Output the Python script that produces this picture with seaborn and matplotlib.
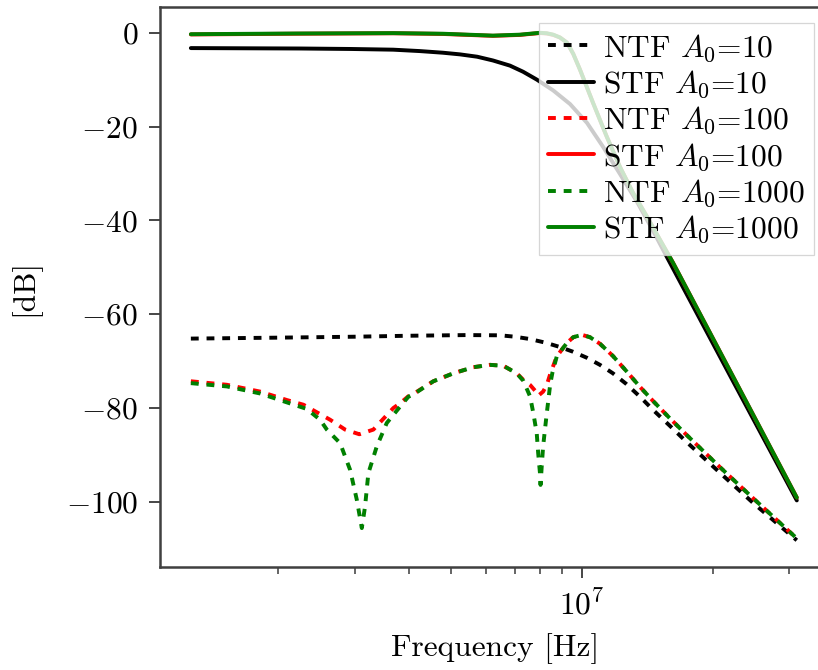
import matplotlib
matplotlib.use("Agg")
import matplotlib.pyplot as plt
import seaborn as sns
import pandas as pd

# Frequency response of the modulator for three op-amp DC gains A0
freq_ntf_10 = [1.26e6, 2.0e6, 3.0e6, 3.95e6, 4.89e6, 5.43e6, 6.479e6, 7.015e6,
               7.595e6, 8.265e6, 8.901e6, 9.535e6, 1.027e7, 1.1e7, 1.178e7,
               1.262e7, 1.36e7, 1.457e7, 1.593e7, 1.743e7, 2.076e7, 2.473e7, 3.12e7]
ntf_10 = [-65.2, -65.0, -64.8, -64.6, -64.5, -64.45, -64.5, -64.8,
          -65.3, -66.1, -67.0, -68.0, -69.3, -70.8, -72.6,
          -74.8, -77.6, -80.4, -83.8, -87.3, -93.8, -100.2, -108.2]

freq_stf_10 = [1.26e6, 2.25e6, 2.94e6, 3.68e6, 4.24e6, 4.79e6, 5.24e6, 5.74e6,
               6.24e6, 6.83e6, 7.32e6, 7.88e6, 8.59e6, 9.39e6, 1.027e7, 1.118e7,
               1.223e7, 1.338e7, 1.457e7, 1.568e7, 2.2e7, 3.12e7]
stf_10 = [-3.26, -3.35, -3.45, -3.6, -3.9, -4.25, -4.6, -5.1,
          -5.9, -7.0, -8.3, -10.0, -12.3, -15.2, -19.2, -24.3,
          -30.1, -36.0, -42.2, -47.8, -73.4, -99.7]

freq_ntf_100 = [1.26e6, 1.525e6, 1.818e6, 2.095e6, 2.287e6, 2.634e6, 2.852e6,
                3.076e6, 3.313e6, 3.683e6, 3.816e6, 3.987e6, 4.094e6, 4.551e6,
                5.06e6, 5.626e6, 6.145e6, 6.594e6, 7.078e6, 7.33e6, 7.6e6, 7.8e6,
                7.93e6, 8.14e6, 8.3e6, 8.45e6, 8.75e6, 9.22e6, 9.55e6, 1.0e7,
                1.043e7, 1.1e7, 1.178e7, 1.267e7, 1.36e7, 1.457e7, 1.593e7,
                1.743e7, 2.076e7, 2.473e7, 3.12e7]
ntf_100 = [-74.3, -75.05, -76.5, -78.3, -79.3, -82.5, -84.6,
           -85.6, -84.6, -80.0, -79.0, -77.5, -77.0, -74.3,
           -72.6, -71.3, -70.8, -71.0, -72.6, -74.0, -75.1, -76.3,
           -77.4, -76.5, -75.1, -72.8, -69.0, -66.2, -64.9, -64.4,
           -64.9, -66.3, -68.9, -72.2, -75.5, -78.5, -82.2,
           -85.8, -92.6, -99.2, -107.8]

freq_stf_100 = [1.26e6, 2.2e6, 3.68e6, 4.79e6, 6.24e6, 7.2e6, 8.0e6, 8.3e6,
                8.59e6, 8.9e6, 9.24e6, 9.55e6, 9.9e6, 1.06e7, 1.141e7, 1.223e7,
                1.31e7, 1.411e7, 1.511e7, 1.619e7, 2.2e7, 3.12e7]
stf_100 = [-0.35, -0.2, -0.1, -0.25, -0.65, -0.45, -0.05, -0.15,
           -0.45, -1.0, -2.1, -4.5, -7.9, -14.9, -22.2, -28.6,
           -34.1, -39.2, -44.1, -49.0, -72.4, -99.1]

freq_ntf_1000 = [1.26e6, 1.525e6, 1.818e6, 2.095e6, 2.328e6, 2.498e6, 2.589e6,
                 2.778e6, 2.929e6, 3.035e6, 3.116e6, 3.17e6, 3.226e6, 3.373e6,
                 3.556e6, 3.816e6, 3.987e6, 4.094e6, 4.551e6, 5.06e6, 5.626e6,
                 6.145e6, 6.594e6, 7.078e6, 7.33e6, 7.595e6, 7.73e6, 7.87e6,
                 7.93e6, 8.006e6, 8.03e6, 8.08e6, 8.14e6, 8.22e6, 8.30e6, 8.37e6,
                 8.45e6, 8.55e6, 8.75e6, 9.22e6, 9.55e6, 1.0e7, 1.043e7, 1.1e7,
                 1.178e7, 1.267e7, 1.36e7, 1.457e7, 1.593e7, 1.743e7, 2.076e7,
                 2.473e7, 3.12e7]
ntf_1000 = [-74.7, -75.4, -76.9, -78.8, -80.2, -82.5, -84.6,
            -87.5, -93.2, -99.6, -105.6, -101.0, -93.9, -88.2,
            -83.2, -79.7, -77.6, -77.1, -74.3, -72.6, -71.3,
            -70.8, -71.0, -72.6, -74.2, -77.5, -81.1, -85.4,
            -89.6, -93.9, -96.4, -92.5, -88.2, -84.6, -81.1, -78.3,
            -75.0, -72.5, -69.0, -66.2, -64.9, -64.4, -64.9, -66.3,
            -68.9, -72.2, -75.5, -78.5, -82.2, -85.8, -92.6,
            -99.2, -107.8]

freq_stf_1000 = list(freq_stf_100)
stf_1000 = [-0.3, -0.15, -0.07, -0.2, -0.6, -0.4, 0.0, -0.1,
            -0.4, -1.0, -2.1, -4.5, -7.9, -14.9, -22.2, -28.6,
            -34.1, -39.2, -44.1, -49.0, -72.4, -99.1]

gains = ["10", "100", "1000"]
colors = {"10": "black", "100": "red", "1000": "green"}
curves = {
    "10": ((freq_ntf_10, ntf_10), (freq_stf_10, stf_10)),
    "100": ((freq_ntf_100, ntf_100), (freq_stf_100, stf_100)),
    "1000": ((freq_ntf_1000, ntf_1000), (freq_stf_1000, stf_1000)),
}

sns.set_theme(style="white")
plt.rcParams.update({
    "font.family": "serif",
    "font.serif": ["cmr10"],
    "mathtext.fontset": "cm",
    "axes.formatter.use_mathtext": True,
    "axes.unicode_minus": True,
    "font.size": 10,
    "axes.labelsize": 10,
    "xtick.labelsize": 10,
    "ytick.labelsize": 10,
    "legend.fontsize": 10,
    "axes.edgecolor": "0.25",
    "axes.linewidth": 0.8,
    "xtick.bottom": True,
    "ytick.left": True,
    "xtick.direction": "out",
    "ytick.direction": "out",
    "xtick.major.size": 3.5,
    "xtick.minor.size": 2.2,
    "ytick.major.size": 3.5,
    "xtick.major.width": 0.6,
    "xtick.minor.width": 0.5,
    "ytick.major.width": 0.6,
    "xtick.color": "0.25",
    "ytick.color": "0.25",
    "xtick.labelcolor": "black",
    "ytick.labelcolor": "black",
    "text.color": "black",
    "axes.labelcolor": "black",
})

dpi = 226
fig = plt.figure(figsize=(818 / dpi, 670 / dpi), dpi=dpi)
ax = fig.add_axes([160 / 818, 103 / 670, 670 / 818, 560 / 670])

lw = 1.25
dash = (0, (2.0, 2.0))
for g in gains:
    (fn, vn), (fs, vs) = curves[g]
    df_n = pd.DataFrame({"f": fn, "dB": vn})
    df_s = pd.DataFrame({"f": fs, "dB": vs})
    sns.lineplot(data=df_n, x="f", y="dB", ax=ax, color=colors[g], linewidth=lw,
                 linestyle=dash, label=r"NTF $A_0$=" + g, errorbar=None)
    sns.lineplot(data=df_s, x="f", y="dB", ax=ax, color=colors[g], linewidth=lw,
                 label=r"STF $A_0$=" + g, errorbar=None)

ax.set_xscale("log")
ax.set_xlim(1.07e6, 3.72e7)
ax.set_ylim(-113.9, 5.5)
ax.set_yticks([-100, -80, -60, -40, -20, 0])
ax.set_xlabel("Frequency [Hz]")
ax.set_ylabel("[dB]", labelpad=8)
ax.tick_params(axis="x", which="minor", bottom=True)

leg = ax.legend(loc="upper right", fancybox=False, framealpha=0.8,
                edgecolor="0.8", handlelength=1.45, handletextpad=0.3,
                labelspacing=0.15, borderpad=0.3, borderaxespad=0.5)
leg.get_frame().set_linewidth(0.4)

fig.savefig("out.png", dpi=dpi)
